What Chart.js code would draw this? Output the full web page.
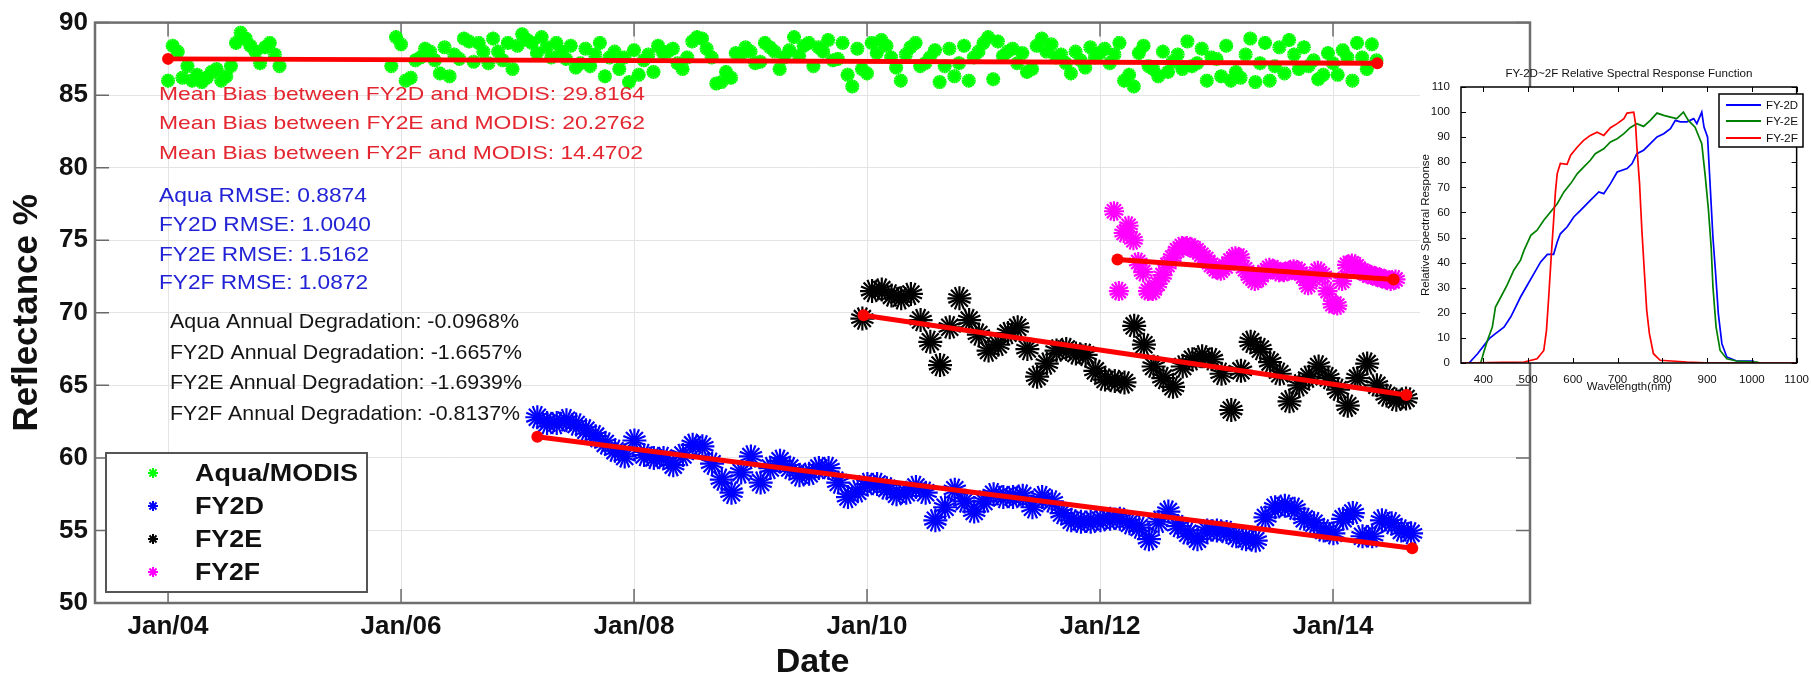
<!DOCTYPE html>
<html>
<head>
<meta charset="utf-8">
<title>FY2 / Aqua reflectance trend</title>
<script src="https://cdn.jsdelivr.net/npm/chart.js@4.4.1/dist/chart.umd.min.js"></script>
<style>
  html, body { margin: 0; padding: 0; background: #fff; }
  #wrap { position: relative; width: 1811px; height: 676px; overflow: hidden; }
  #mainChart { position: absolute; left: 0; top: 0; }
  #srfChart { position: absolute; left: 1405px; top: 55px; }
</style>
</head>
<body>
<div id="wrap">
  <canvas id="mainChart" width="1811" height="676"></canvas>
  <canvas id="srfChart" width="406" height="345"></canvas>
</div>
<script>
const FONT = '"Liberation Sans", Arial, Helvetica, sans-serif';

// ---- main chart: reflectance % against decimal year ----
const xTickYears = [2004, 2006, 2008, 2010, 2012, 2014];
const xMin = 2003.373;
const xMax = 2015.691;

// Aqua/MODIS is a loose cloud: two monthly reads, half a month apart (null = no data)
const aquaStart = 2004.0;
const aquaValues = [
  86.0, 88.0, 87.0, 86.4, 86.2, 86.8, 86.3, 88.6, 88.9, 88.0, 88.3, 87.8,
  null, null, null, null, null, null, null, null, null, null, null, 87.0,
  88.5, 86.2, 87.6, 88.0, 86.5, 86.3, 87.5, 88.7, 88.6, 87.2, 88.0, 88.6,
  88.4, 88.8, 87.9, 88.3, 88.6, 87.5, 86.9, 88.2, 87.8, 86.3, 88.0, 87.6,
  88.1, 87.4, 86.6, 87.9, 88.2, 86.8, 88.7, 88.9, 87.6, 85.9, 86.2, 87.8,
  88.0, 87.3, 88.3, 86.8, 88.1, 87.7, 88.6, 88.3, 88.8, 87.5, 86.4, 88.2,
  86.5, 87.9, 88.4, 86.9, 87.8, 88.6, 87.2, 88.1, 87.0, 86.3, 88.4, 87.6,
  88.6, 86.1, 87.7, 88.2, 87.9, 86.8, 88.9, 88.5, 87.8, 86.5, 87.4, 88.3,
  87.9, 87.2, 88.6, 86.4, 87.9, 87.0, 86.3, 86.6, 87.8, 88.7, 87.2, 86.0,
  87.5, 88.4, 86.6, 87.8, 85.9, 88.6, 87.0, 86.5, 87.8, 88.3, 87.4, 86.4,
  87.2, 88.1, 86.0, 87.6, 88.5
];
const aquaStartB = 2004.04;
const aquaValuesB = [
  88.4, 86.2, 86.0, 85.9, 86.6, 86.0, 87.0, 89.3, 88.4, 87.2, 88.6, 87.0,
  null, null, null, null, null, null, null, null, null, null, null, 89.0,
  86.0, 87.4, 88.2, 87.4, 88.3, 87.8, 88.9, 87.3, 88.0, 88.9, 87.4, 86.8,
  89.2, 88.6, 89.0, 87.6, 88.0, 88.4, 87.2, 87.0, 88.6, 87.6, 86.8, 85.9,
  86.4, 87.8, 88.4, 88.0, 87.2, 87.6, 89.0, 88.2, 85.8, 86.6, 87.9, 88.3,
  87.2, 88.6, 88.0, 87.6, 89.0, 88.4, 87.0, 88.0, 87.4, 88.6, 85.6, 86.8,
  88.6, 88.8, 87.6, 86.0, 88.3, 87.0, 87.6, 85.9, 88.2, 87.2, 86.0, 88.0,
  89.0, 88.7, 88.0, 87.2, 86.6, 88.4, 88.0, 87.6, 87.2, 88.0, 86.9, 87.6,
  88.2, 87.8, 86.0, 85.6, 88.4, 86.8, 88.0, 87.3, 86.8, 87.0, 88.2, 87.6,
  86.3, 86.0, 86.2, 88.9, 87.2, 86.0, 88.3, 88.8, 86.8, 87.0, 86.1, 87.9,
  86.4, 87.6, 88.6, 86.8, 87.4
];

// monthly samples
const fy2dStart = 2007.17;
const fy2dValues = [
  62.8, 62.4, 62.4, 62.6, 62.3, 61.9, 61.5, 61.0, 60.5, 60.1,
  61.2, 60.2, 60.0, 60.0, 59.5, 60.2, 60.9, 60.8, 59.6, 58.5, 57.6, 59.0,
  60.1, 58.3, 59.3, 59.8, 59.3, 58.8, 58.9, 59.3, 59.3, 58.3, 57.3, 57.7,
  58.2, 58.2, 57.9, 57.5, 57.6, 58.0, 57.6, 55.7, 56.6, 57.8, 57.0, 56.3,
  57.0, 57.5, 57.3, 57.3, 57.4, 56.6, 57.3, 57.0, 56.2, 55.7, 55.6, 55.6,
  55.7, 55.8, 55.8, 55.5, 55.2, 54.4, 55.6, 56.3, 55.3, 54.8, 54.4, 55.0,
  55.0, 54.9, 54.6, 54.4, 54.3, 55.9, 56.6, 56.7, 56.5, 55.8, 55.5, 55.0,
  54.8, 55.8, 56.2, 54.6, 54.6, 55.7, 55.5, 55.0, 54.8
];

const fy2eStart = 2009.96;
const fy2eValues = [
  69.6, 71.5, 71.6, 71.2, 71.0, 71.3, 69.5, 68.0, 66.4, 69.0, 71.0, 69.5,
  68.5, 67.4, 67.8, 68.6, 69.0, 67.5, 65.6, 66.5, 67.4, 67.5, 67.2, 67.1,
  66.0, 65.4, 65.3, 65.2, 69.1, 67.8, 66.3, 65.5, 64.9, 66.3, 66.8, 67.0,
  66.8, 65.8, 63.3, 66.0, 68.0, 67.5, 66.6, 65.8, 63.9, 65.0, 65.6, 66.3,
  65.5, 64.7, 63.6, 65.5, 66.5, 65.0, 64.3, 64.0, 64.1
];

// half-month samples
const fy2fStart = 2012.12;
const fy2fValues = [
  77.0, 71.5, 75.5, 76.0, 75.0, 73.5, 72.8, 71.5, 71.5, 72.0, 72.6, 73.3,
  73.8, 74.3, 74.6, 74.6, 74.5, 74.3, 74.0, 73.7, 73.3,
  73.0, 72.9, 73.2, 73.6, 73.9, 73.8, 73.0, 72.5, 72.2, 72.4, 72.8, 73.1,
  73.0, 72.8, 72.8, 72.9, 73.0, 72.9, 72.5, 71.9, 72.4, 72.9, 72.6, 71.5,
  70.6, 70.5, 72.2, 73.3, 73.4, 73.2, 72.9, 72.7, 72.6, 72.5, 72.4, 72.3,
  72.2, 72.3
];

// linear fits (first and last point)
const aquaFitX = [2004.0, 2014.38];
const aquaFitY = [87.5, 87.2];
const fy2dFitX = [2007.17, 2014.68];
const fy2dFitY = [61.46, 53.77];
const fy2eFitX = [2009.97, 2014.63];
const fy2eFitY = [69.83, 64.34];
const fy2fFitX = [2012.15, 2014.52];
const fy2fFitY = [73.67, 72.3];

const legendLabels = ['Aqua/MODIS', 'FY2D', 'FY2E', 'FY2F'];
const biasLabels = [
  'Mean Bias between FY2D and MODIS: 29.8164',
  'Mean Bias between FY2E and MODIS: 20.2762',
  'Mean Bias between FY2F and MODIS: 14.4702'
];
const rmseLabels = ['Aqua RMSE: 0.8874', 'FY2D RMSE: 1.0040', 'FY2E RMSE: 1.5162', 'FY2F RMSE: 1.0872'];
const degradationLabels = [
  'Aqua Annual Degradation: -0.0968%',
  'FY2D Annual Degradation: -1.6657%',
  'FY2E Annual Degradation: -1.6939%',
  'FY2F Annual Degradation: -0.8137%'
];

// ---- inset: relative spectral response ----
const wavelengthTicks = [400, 500, 600, 700, 800, 900, 1000, 1100];
const srfLabels = ['FY-2D', 'FY-2E', 'FY-2F'];
const srf2dNm = [368, 387, 413, 427, 446, 461, 472, 483, 498, 513, 528, 543, 557, 565, 572, 587, 602, 617, 639, 658, 669, 684, 699, 721, 732, 743, 758, 773, 788, 803, 818, 829, 840, 855, 870, 877, 888, 893, 901, 907, 913, 919, 925, 933, 944, 966, 1003, 1005];
const srf2dVal = [0, 3.7, 9.7, 11.7, 14.3, 18.3, 22.3, 26.3, 31, 35.6, 40.3, 43.3, 43.3, 48.2, 51.5, 54.2, 58.2, 60.8, 64.8, 68.2, 67.5, 71.5, 76.1, 77.5, 79.4, 83.4, 84.8, 87.4, 90.1, 91.4, 93.4, 96.7, 96.1, 96.1, 97.4, 95.4, 100, 94, 90, 70, 50, 35.6, 19.7, 7.7, 2.4, 0.8, 0.8, 0];
const srf2eNm = [394, 401, 409, 420, 427, 439, 453, 468, 483, 491, 506, 520, 535, 550, 565, 580, 595, 610, 624, 639, 650, 669, 684, 699, 714, 728, 743, 758, 773, 788, 803, 818, 832, 847, 858, 873, 888, 896, 903, 909, 913, 920, 929, 944, 966, 1011, 1018];
const srf2eVal = [0, 4.4, 9, 14.3, 22.3, 26.3, 31, 37, 41, 45, 50.9, 52.9, 56.9, 60.2, 63.5, 68.2, 71.5, 75.5, 78.1, 80.8, 83.4, 85.4, 88.1, 89.4, 91.4, 93.8, 95.4, 94.3, 96.7, 99.6, 98.7, 98, 97.4, 100, 96.7, 94, 87.4, 74.1, 60.8, 46.2, 30.3, 14.3, 5, 1.7, 0.8, 0.4, 0];
const srf2fNm = [350, 446, 491, 520, 535, 541, 546, 552, 557, 561, 565, 572, 587, 595, 610, 624, 639, 654, 669, 684, 699, 714, 721, 736, 740, 743, 749, 754, 760, 765, 771, 780, 795, 855, 907, 1100];
const srf2fVal = [0, 0.3, 0.4, 1.7, 5, 13, 26.3, 43.6, 56.9, 68.2, 75.5, 79.5, 79.2, 82.8, 86.1, 88.7, 90.7, 92, 90.7, 93.8, 95.4, 97.4, 99.6, 100, 95.4, 86.1, 71.5, 53.5, 35.6, 21, 11.7, 3.7, 1.1, 0.4, 0, 0];

// ---- helpers ----
function sampled(start, values, step) {
  return values
    .map((v, i) => ({ x: start + i * step, y: v }))
    .filter(p => p.y !== null);
}

function pairs(xs, ys) {
  return xs.map((x, i) => ({ x: x, y: ys[i] }));
}

function fitLine(xs, ys) {
  return {
    data: pairs(xs, ys),
    showLine: true,
    borderColor: '#ff0000',
    backgroundColor: '#ff0000',
    borderWidth: 5,
    pointRadius: 6,
    pointBorderWidth: 0,
    pointBackgroundColor: '#ff0000'
  };
}

// matlab '*' markers are dense: draw each sample as two overlaid stars
function starSeries(label, points, color, radius) {
  return [0, 22.5].map(rot => ({
    label: label,
    data: points,
    pointStyle: 'star',
    pointRadius: radius,
    pointRotation: rot,
    pointBorderWidth: 2.2,
    pointBorderColor: color,
    pointBackgroundColor: color,
    borderColor: color
  }));
}

// text stretched to a measured width, placed by the centre of its capitals
function stretchText(ctx, text, x, capMid, width, size, weight, color) {
  ctx.save();
  ctx.font = weight + ' ' + size + 'px ' + FONT;
  ctx.fillStyle = color;
  ctx.textAlign = 'left';
  ctx.textBaseline = 'alphabetic';
  const natural = ctx.measureText(text).width;
  ctx.translate(x, capMid + size * 0.358);
  ctx.scale(width / natural, 1);
  ctx.fillText(text, 0, 0);
  ctx.restore();
}

const seriesColors = ['#00ff00', '#0000ff', '#000000', '#ff00ff'];

const mainDecor = {
  id: 'mainDecor',
  beforeDatasetsDraw(chart) {
    const { ctx, chartArea: a, scales } = chart;
    ctx.save();
    ctx.strokeStyle = '#6a6a6a';
    ctx.lineWidth = 1.5;
    ctx.beginPath();
    xTickYears.forEach(v => {
      const px = scales.x.getPixelForValue(v);
      ctx.moveTo(px, a.bottom); ctx.lineTo(px, a.bottom - 14);
      ctx.moveTo(px, a.top); ctx.lineTo(px, a.top + 14);
    });
    scales.y.ticks.forEach(t => {
      const py = scales.y.getPixelForValue(t.value);
      ctx.moveTo(a.left, py); ctx.lineTo(a.left + 14, py);
      ctx.moveTo(a.right, py); ctx.lineTo(a.right - 14, py);
    });
    ctx.stroke();
    ctx.lineWidth = 2.5;
    ctx.strokeStyle = '#6e6e6e';
    ctx.strokeRect(a.left, a.top, a.right - a.left, a.bottom - a.top);
    ctx.restore();
  },
  afterDatasetsDraw(chart) {
    const ctx = chart.ctx;
    const biasY = [93, 122, 152];
    const biasW = [486, 486, 484];
    biasLabels.forEach((t, i) => stretchText(ctx, t, 159, biasY[i], biasW[i], 19, 'normal', '#e3262f'));
    const rmseY = [195, 224, 254, 282];
    const rmseW = [208, 212, 210, 209];
    rmseLabels.forEach((t, i) => stretchText(ctx, t, 159, rmseY[i], rmseW[i], 20, 'normal', '#2323d6'));
    const degY = [320, 351, 381, 412];
    const degW = [349, 352, 352, 350];
    degradationLabels.forEach((t, i) => stretchText(ctx, t, 170, degY[i], degW[i], 21, 'normal', '#151515'));

    // legend box
    ctx.save();
    ctx.fillStyle = '#ffffff';
    ctx.fillRect(106, 453, 261, 139);
    ctx.strokeStyle = '#555555';
    ctx.lineWidth = 2;
    ctx.strokeRect(106, 453, 261, 139);
    const rowY = [473, 506, 539, 572];
    const rowW = [163, 69, 67, 65];
    legendLabels.forEach((t, i) => {
      ctx.strokeStyle = seriesColors[i];
      ctx.fillStyle = seriesColors[i];
      Chart.helpers.drawPoint(ctx, { pointStyle: 'star', radius: 5, borderWidth: 1.6, rotation: 0 }, 153, rowY[i]);
      stretchText(ctx, t, 195, rowY[i], rowW[i], 23, 'bold', '#111111');
    });
    ctx.restore();
  }
};

const mainDatasets = [
  fitLine(aquaFitX, aquaFitY),
  fitLine(fy2dFitX, fy2dFitY),
  fitLine(fy2eFitX, fy2eFitY),
  fitLine(fy2fFitX, fy2fFitY),
  ...starSeries('FY2F', sampled(fy2fStart, fy2fValues, 1 / 24), seriesColors[3], 10),
  ...starSeries('FY2E', sampled(fy2eStart, fy2eValues, 1 / 12), seriesColors[2], 12),
  ...starSeries('FY2D', sampled(fy2dStart, fy2dValues, 1 / 12), seriesColors[1], 12),
  ...starSeries('Aqua/MODIS', sampled(aquaStart, aquaValues, 1 / 12), seriesColors[0], 7),
  ...starSeries('Aqua/MODIS', sampled(aquaStartB, aquaValuesB, 1 / 12), seriesColors[0], 7)
];

new Chart(document.getElementById('mainChart'), {
  type: 'scatter',
  data: { datasets: mainDatasets },
  options: {
    responsive: false,
    animation: false,
    devicePixelRatio: 1,
    layout: { padding: { top: 20, right: 281, left: 0, bottom: 0 } },
    plugins: { legend: { display: false }, tooltip: { enabled: false } },
    scales: {
      x: {
        type: 'linear',
        min: xMin,
        max: xMax,
        afterBuildTicks: axis => { axis.ticks = xTickYears.map(v => ({ value: v })); },
        afterFit: axis => { axis.height = 73; },
        grid: { color: '#e4e4e4', lineWidth: 1, drawTicks: false },
        border: { display: false },
        ticks: {
          callback: v => 'Jan/' + String(v).slice(2),
          font: { family: FONT, size: 26, weight: 'bold' },
          color: '#111',
          padding: 8,
          maxRotation: 0,
          autoSkip: false
        },
        title: {
          display: true,
          text: 'Date',
          font: { family: FONT, size: 34, weight: 'bold', lineHeight: 0.8 },
          color: '#111',
          padding: { top: 0, bottom: 0 }
        }
      },
      y: {
        min: 50,
        max: 90,
        afterFit: axis => { axis.width = 95; },
        grid: { color: '#e4e4e4', lineWidth: 1, drawTicks: false },
        border: { display: false },
        ticks: {
          stepSize: 5,
          font: { family: FONT, size: 26, weight: 'bold' },
          color: '#111',
          padding: 7
        },
        title: {
          display: true,
          text: 'Reflectance %',
          font: { family: FONT, size: 35, weight: 'bold', lineHeight: 1.2 },
          color: '#111',
          padding: { top: 6, bottom: 0 }
        }
      }
    }
  },
  plugins: [mainDecor]
});

// ---- inset chart ----
const srfColors = ['#0000ff', '#008000', '#ff0000'];

const srfDecor = {
  id: 'srfDecor',
  beforeDraw(chart) {
    const { ctx, chartArea: a } = chart;
    ctx.save();
    ctx.fillStyle = '#ffffff';
    ctx.fillRect(15, a.top, a.right - 15, a.bottom - a.top);
    ctx.restore();
  },
  afterDatasetsDraw(chart) {
    const { ctx, chartArea: a, scales } = chart;
    ctx.save();
    ctx.strokeStyle = '#000';
    ctx.lineWidth = 1;
    ctx.beginPath();
    wavelengthTicks.forEach(v => {
      const px = Math.round(scales.x.getPixelForValue(v)) + 0.5;
      ctx.moveTo(px, a.bottom); ctx.lineTo(px, a.bottom - 5);
      ctx.moveTo(px, a.top); ctx.lineTo(px, a.top + 5);
    });
    scales.y.ticks.forEach(t => {
      const py = Math.round(scales.y.getPixelForValue(t.value)) + 0.5;
      ctx.moveTo(a.left, py); ctx.lineTo(a.left + 5, py);
      ctx.moveTo(a.right, py); ctx.lineTo(a.right - 5, py);
    });
    ctx.stroke();
    ctx.lineWidth = 1.5;
    ctx.strokeRect(a.left, a.top, a.right - a.left, a.bottom - a.top);

    // title
    stretchText(ctx, 'FY-2D~2F Relative Spectral Response Function', 224 - 123.5, 18, 247, 11.5, 'normal', '#111');

    // legend
    ctx.fillStyle = '#ffffff';
    ctx.fillRect(314, 39, 84, 53);
    ctx.lineWidth = 1.5;
    ctx.strokeStyle = '#000';
    ctx.strokeRect(314, 39, 84, 53);
    const rows = [50, 66, 83];
    srfLabels.forEach((t, i) => {
      ctx.strokeStyle = srfColors[i];
      ctx.lineWidth = 2;
      ctx.beginPath();
      ctx.moveTo(321, rows[i]);
      ctx.lineTo(356, rows[i]);
      ctx.stroke();
      stretchText(ctx, t, 361, rows[i], 32, 11.5, 'normal', '#111');
    });
    ctx.restore();
  }
};

function srfLine(label, xs, ys, color, order) {
  return {
    label: label,
    data: pairs(xs, ys),
    showLine: true,
    borderColor: color,
    borderWidth: 1.7,
    pointRadius: 0,
    order: order
  };
}

new Chart(document.getElementById('srfChart'), {
  type: 'scatter',
  data: {
    datasets: [
      srfLine(srfLabels[0], srf2dNm, srf2dVal, srfColors[0], 2),
      srfLine(srfLabels[1], srf2eNm, srf2eVal, srfColors[1], 1),
      srfLine(srfLabels[2], srf2fNm, srf2fVal, srfColors[2], 0)
    ]
  },
  options: {
    responsive: false,
    animation: false,
    devicePixelRatio: 1,
    layout: { padding: { top: 32, right: 12, left: 0, bottom: 0 } },
    plugins: { legend: { display: false }, tooltip: { enabled: false } },
    scales: {
      x: {
        type: 'linear',
        min: 350,
        max: 1100,
        afterBuildTicks: axis => { axis.ticks = wavelengthTicks.map(v => ({ value: v })); },
        afterFit: axis => { axis.height = 37; },
        grid: { display: false },
        border: { display: false },
        ticks: { callback: v => String(v), font: { family: FONT, size: 11.5 }, color: '#111', padding: 2, maxRotation: 0, autoSkip: false },
        title: {
          display: true,
          text: 'Wavelength(nm)',
          font: { family: FONT, size: 11.5 },
          color: '#111',
          padding: { top: 0, bottom: 6 }
        }
      },
      y: {
        min: 0,
        max: 110,
        afterFit: axis => { axis.width = 56; },
        grid: { display: false },
        border: { display: false },
        ticks: { stepSize: 10, font: { family: FONT, size: 11.5 }, color: '#111', padding: 3 },
        title: {
          display: true,
          text: 'Relative Spectral Response',
          font: { family: FONT, size: 11.5 },
          color: '#111',
          padding: { top: 14, bottom: 0 }
        }
      }
    }
  },
  plugins: [srfDecor]
});
</script>
</body>
</html>
